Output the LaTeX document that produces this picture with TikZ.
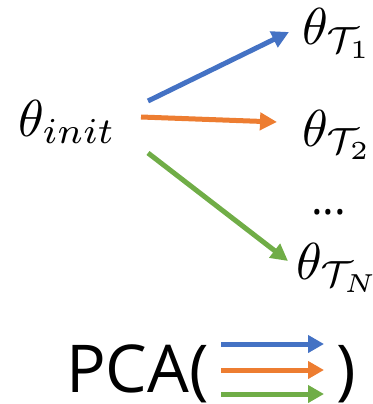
\documentclass[tikz,border=0pt]{standalone}
\usepackage{fontspec}
\setsansfont{Open Sans}
\usepackage{amsmath}
\usepackage{graphicx}
\usepackage{xcolor}
\usetikzlibrary{arrows.meta, positioning}

\definecolor{pblue}{HTML}{4472C4}
\definecolor{porange}{HTML}{ED7D31}
\definecolor{pgreen}{HTML}{70AD47}

\newcommand{\bigmath}[1]{\scalebox{5.2}{$#1$}}

\begin{document}
\begin{tikzpicture}[
    x=1pt, y=-1pt,
    param/.style={inner sep=0pt, anchor=base west},
    pcatext/.style={inner sep=0pt, anchor=base west,
                    font=\sffamily\fontsize{66}{76}\selectfont},
    arrow/.style={-{Triangle[length=17pt, width=17pt]}, line width=5pt},
    small arrow/.style={-{Triangle[length=16pt, width=17pt]}, line width=5pt}
]
\useasboundingbox (0,0) rectangle (372,404);

% parameters
\node[param] (init) at (18,136) {\bigmath{\theta_{init}}};
\node[param] (t1) at (302,45) {\bigmath{\theta_{\mathcal{T}_1}}};
\node[param] (t2) at (302,146) {\bigmath{\theta_{\mathcal{T}_2}}};
\node[param, font=\sffamily\fontsize{44}{50}\selectfont] (dots) at (311,214) {...};
\node[param] (tn) at (296,279) {\bigmath{\theta_{\mathcal{T}_N}}};

% adaptation arrows
\coordinate (b0) at (148,101);
\coordinate (b1) at (289,32);
\coordinate (o0) at (141,117);
\coordinate (o1) at (277,122);
\coordinate (g0) at (148,153);
\coordinate (g1) at (288,261);
\draw[arrow, pblue] (b0) -- (b1);
\draw[arrow, porange] (o0) -- (o1);
\draw[arrow, pgreen] (g0) -- (g1);

% PCA of the arrows
\node[pcatext] (pca) at (66,392) {PCA(};
\node[pcatext] (close) at (336,392) {)};
\coordinate (p0) at (221,344);
\coordinate (p1) at (324,344);
\coordinate (q0) at (221,370);
\coordinate (q1) at (324,370);
\coordinate (r0) at (221,394);
\coordinate (r1) at (324,394);
\draw[small arrow, pblue] (p0) -- (p1);
\draw[small arrow, porange] (q0) -- (q1);
\draw[small arrow, pgreen] (r0) -- (r1);

\end{tikzpicture}
\end{document}
